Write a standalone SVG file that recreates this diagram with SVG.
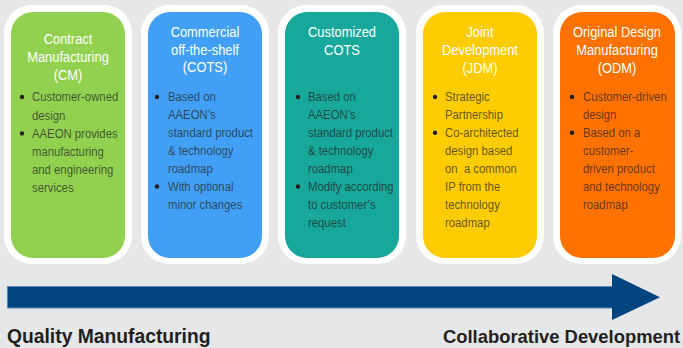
<svg xmlns="http://www.w3.org/2000/svg" width="683" height="348" viewBox="0 0 683 348">
<style>
.outer{fill:#ffffff}
.t{font-family:"Liberation Sans",Arial,sans-serif;font-size:15px;fill:#ffffff;text-anchor:middle}
.b{font-family:"Liberation Sans",Arial,sans-serif;font-size:13.5px;fill:#231f20;fill-opacity:0.72}
.dot{fill:#231f20}
.lbl{font-family:"Liberation Sans",Arial,sans-serif;font-weight:bold;fill:#231f20}
</style>
<rect x="0" y="0" width="683" height="348" fill="#e6e7e8"/>

<g id="cm">
<rect class="outer" x="4" y="5" width="128" height="259" rx="28"/>
<rect x="11" y="12" width="114" height="246" rx="22" fill="#92d050"/>
<g transform="translate(68,0) scale(0.86,1)">
<text class="t" x="0" y="44">Contract</text>
<text class="t" x="0" y="62">Manufacturing</text>
<text class="t" x="0" y="80">(CM)</text>
</g>
<circle class="dot" cx="22" cy="97" r="2.2"/>
<circle class="dot" cx="22" cy="133.4" r="2.2"/>
<g transform="translate(32,0) scale(0.84,1)">
<text class="b" x="0" y="101.5">Customer-owned</text>
<text class="b" x="0" y="119.7">design</text>
<text class="b" x="0" y="137.9">AAEON provides</text>
<text class="b" x="0" y="156.1">manufacturing</text>
<text class="b" x="0" y="174.3">and engineering</text>
<text class="b" x="0" y="192.5">services</text>
</g>
</g>

<g id="cots">
<rect class="outer" x="141" y="5" width="128" height="259" rx="28"/>
<rect x="148" y="12" width="114" height="246" rx="22" fill="#419ff5"/>
<g transform="translate(205,0) scale(0.86,1)">
<text class="t" x="0" y="37.5">Commercial</text>
<text class="t" x="0" y="55">off-the-shelf</text>
<text class="t" x="0" y="72.5">(COTS)</text>
</g>
<circle class="dot" cx="157" cy="97" r="2.2"/>
<circle class="dot" cx="157" cy="186.5" r="2.2"/>
<g transform="translate(168,0) scale(0.84,1)">
<text class="b" x="0" y="101.5">Based on</text>
<text class="b" x="0" y="119.4">AAEON’s</text>
<text class="b" x="0" y="137.3">standard product</text>
<text class="b" x="0" y="155.2">&amp; technology</text>
<text class="b" x="0" y="173.1">roadmap</text>
<text class="b" x="0" y="191">With optional</text>
<text class="b" x="0" y="208.9">minor changes</text>
</g>
</g>

<g id="customized-cots">
<rect class="outer" x="278" y="5" width="128" height="259" rx="28"/>
<rect x="285" y="12" width="114" height="246" rx="22" fill="#17a89b"/>
<g transform="translate(342,0) scale(0.86,1)">
<text class="t" x="0" y="37">Customized</text>
<text class="t" x="0" y="55">COTS</text>
</g>
<circle class="dot" cx="298" cy="97" r="2.2"/>
<circle class="dot" cx="298" cy="186.5" r="2.2"/>
<g transform="translate(308,0) scale(0.84,1)">
<text class="b" x="0" y="101.5">Based on</text>
<text class="b" x="0" y="119.4">AAEON’s</text>
<text class="b" x="0" y="137.3">standard product</text>
<text class="b" x="0" y="155.2">&amp; technology</text>
<text class="b" x="0" y="173.1">roadmap</text>
<text class="b" x="0" y="191">Modify according</text>
<text class="b" x="0" y="208.9">to customer’s</text>
<text class="b" x="0" y="226.8">request</text>
</g>
</g>

<g id="jdm">
<rect class="outer" x="416" y="5" width="128" height="259" rx="28"/>
<rect x="423" y="12" width="114" height="246" rx="22" fill="#ffcc00"/>
<g transform="translate(480,0) scale(0.86,1)">
<text class="t" x="0" y="37.5">Joint</text>
<text class="t" x="0" y="55.5">Development</text>
<text class="t" x="0" y="73">(JDM)</text>
</g>
<circle class="dot" cx="435" cy="97" r="2.2"/>
<circle class="dot" cx="435" cy="132.8" r="2.2"/>
<g transform="translate(445,0) scale(0.84,1)">
<text class="b" x="0" y="101.5">Strategic</text>
<text class="b" x="0" y="119.4">Partnership</text>
<text class="b" x="0" y="137.3">Co-architected</text>
<text class="b" x="0" y="155.2">design based</text>
<text class="b" x="0" y="173.1">on&#160; a common</text>
<text class="b" x="0" y="191">IP from the</text>
<text class="b" x="0" y="208.9">technology</text>
<text class="b" x="0" y="226.8">roadmap</text>
</g>
</g>

<g id="odm">
<rect class="outer" x="553" y="5" width="128" height="259" rx="28"/>
<rect x="560" y="12" width="115" height="246" rx="22" fill="#ff7200"/>
<g transform="translate(617,0) scale(0.86,1)">
<text class="t" x="0" y="37.5">Original Design</text>
<text class="t" x="0" y="55.5">Manufacturing</text>
<text class="t" x="0" y="73">(ODM)</text>
</g>
<circle class="dot" cx="572" cy="97" r="2.2"/>
<circle class="dot" cx="572" cy="132.8" r="2.2"/>
<g transform="translate(583,0) scale(0.84,1)">
<text class="b" x="0" y="101.5">Customer-driven</text>
<text class="b" x="0" y="119.4">design</text>
<text class="b" x="0" y="137.3">Based on a</text>
<text class="b" x="0" y="155.2">customer-</text>
<text class="b" x="0" y="173.1">driven product</text>
<text class="b" x="0" y="191">and technology</text>
<text class="b" x="0" y="208.9">roadmap</text>
</g>
</g>

<g id="connectors">
<rect x="7.5" y="286.5" width="606" height="21.5" fill="#004480" stroke="#5a88b5" stroke-width="1"/>
<polygon points="612,274 660,297.3 612,320" fill="#004480"/>
</g>

<g id="labels">
<text class="lbl" x="7" y="342.5" font-size="19.3">Quality Manufacturing</text>
<text class="lbl" x="443" y="342.5" font-size="18.4">Collaborative Development</text>
</g>
</svg>
